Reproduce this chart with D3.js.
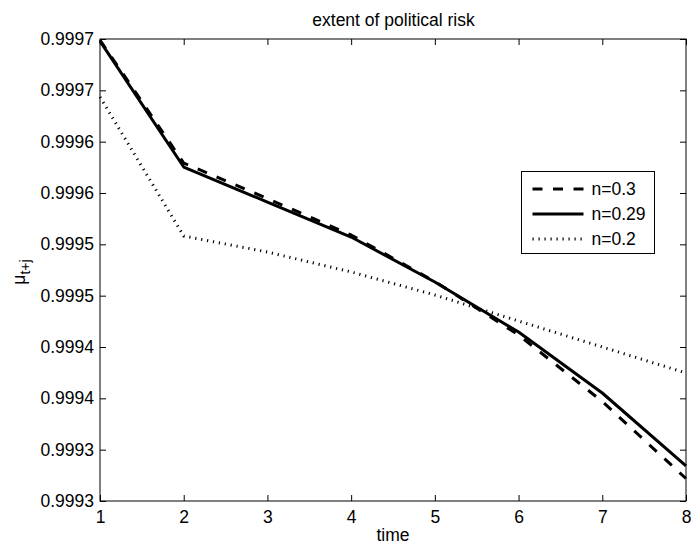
<!DOCTYPE html>
<html>
<head>
<meta charset="utf-8">
<script src="https://cdn.jsdelivr.net/npm/d3@7"></script>
<style>
  html, body { margin: 0; padding: 0; background: #fff; }
  svg text { font-family: "Liberation Sans", Arial, Helvetica, sans-serif; fill: #000; }
</style>
</head>
<body>
<svg id="chart" width="691" height="545"></svg>
<script>
// ---- data ----
const title = "extent of political risk";
const xLabel = "time";
const time = [1, 2, 3, 4, 5, 6, 7, 8];
const xTickValues = [1, 2, 3, 4, 5, 6, 7, 8];
const yTickValues = [0.99930, 0.99935, 0.99940, 0.99945, 0.99950, 0.99955, 0.99960, 0.99965, 0.99970, 0.99975];
const yTickLabels = ["0.9993", "0.9993", "0.9994", "0.9994", "0.9995", "0.9995", "0.9996", "0.9996", "0.9997", "0.9997"];
const seriesNames = ["n=0.3", "n=0.29", "n=0.2"];
const n03  = [0.999749, 0.9996292, 0.9995946, 0.9995591, 0.9995138, 0.9994617, 0.9993969, 0.9993219];
const n029 = [0.999748, 0.9996253, 0.9995912, 0.9995571, 0.9995133, 0.9994646, 0.9994052, 0.9993341];
const n02  = [0.9996935, 0.9995581, 0.9995425, 0.9995231, 0.9995007, 0.9994753, 0.99945, 0.9994247];

// ---- layout ----
const W = 691, H = 545;
const m = { left: 100, top: 39, right: 5, bottom: 44 };
const svg = d3.select("#chart");
const x = d3.scaleLinear().domain([1, 8]).range([m.left, W - m.right]);
const y = d3.scaleLinear().domain([0.99930, 0.99975]).range([H - m.bottom, m.top]);
const FS = 17.5;

const styles = [
  { data: n03,  width: 3,   dash: "10,10.5" },
  { data: n029, width: 3,   dash: null },
  { data: n02,  width: 3,   dash: "1.2,4.8" }
];

// frame
svg.append("rect")
  .attr("x", x(1)).attr("y", y(0.99975))
  .attr("width", x(8) - x(1)).attr("height", y(0.99930) - y(0.99975))
  .attr("fill", "#fff").attr("stroke", "#000").attr("stroke-width", 1);

// axes (MATLAB style inner ticks on all sides)
const tickLen = 6;
const bottomAxis = d3.axisBottom(x).tickValues(xTickValues).tickSizeInner(-tickLen).tickSizeOuter(0).tickPadding(10).tickFormat(d3.format("d"));
const topAxis = d3.axisTop(x).tickValues(xTickValues).tickSizeInner(-tickLen).tickSizeOuter(0).tickFormat("");
const leftAxis = d3.axisLeft(y).tickValues(yTickValues).tickSizeInner(-tickLen).tickSizeOuter(0).tickPadding(6)
  .tickFormat((d, i) => yTickLabels[i]);
const rightAxis = d3.axisRight(y).tickValues(yTickValues).tickSizeInner(-tickLen).tickSizeOuter(0).tickFormat("");

function styleAxis(g) {
  g.select(".domain").remove();
  g.selectAll(".tick line").attr("stroke", "#000").attr("stroke-width", 1);
  g.selectAll(".tick text").attr("font-size", FS).attr("font-family", "Liberation Sans, Arial, sans-serif").attr("fill", "#000");
}
svg.append("g").attr("transform", `translate(0,${y(0.99930)})`).call(bottomAxis).call(styleAxis);
svg.append("g").attr("transform", `translate(0,${y(0.99975)})`).call(topAxis).call(styleAxis);
svg.append("g").attr("transform", `translate(${x(1)},0)`).call(leftAxis).call(styleAxis);
svg.append("g").attr("transform", `translate(${x(8)},0)`).call(rightAxis).call(styleAxis);

// lines
const line = d3.line().x((d, i) => x(time[i])).y(d => y(d));
const lg0 = svg.append("g");
styles.forEach(s => {
  lg0.append("path")
    .attr("d", line(s.data))
    .attr("fill", "none")
    .attr("stroke", "#000")
    .attr("stroke-width", s.width)
    .attr("stroke-linejoin", "round")
    .attr("stroke-dasharray", s.dash);
});

// title & labels
svg.append("text").attr("x", 393.5).attr("y", 26).attr("text-anchor", "middle")
  .attr("font-size", FS).text(title);
svg.append("text").attr("x", (x(1) + x(8)) / 2).attr("y", 541).attr("text-anchor", "middle")
  .attr("font-size", FS).text(xLabel);
const yl = svg.append("text").attr("transform", "translate(25,272) rotate(-90)")
  .attr("text-anchor", "middle").attr("font-size", FS);
yl.append("tspan").text("μ");
yl.append("tspan").attr("dy", 5).attr("font-size", 14).text("t+j");

// legend
const lg = svg.append("g");
lg.append("rect").attr("x", 521.5).attr("y", 171.5).attr("width", 133).attr("height", 82)
  .attr("fill", "#fff").attr("stroke", "#000").attr("stroke-width", 1);
const rowY = [189, 214, 239];
styles.forEach((s, i) => {
  lg.append("line").attr("x1", 532.5).attr("x2", 583.5).attr("y1", rowY[i]).attr("y2", rowY[i])
    .attr("stroke", "#000").attr("stroke-width", s.width).attr("stroke-dasharray", s.dash);
  lg.append("text").attr("x", 591.5).attr("y", rowY[i]).attr("dy", "0.35em")
    .attr("font-size", FS).text(seriesNames[i]);
});
</script>
</body>
</html>
